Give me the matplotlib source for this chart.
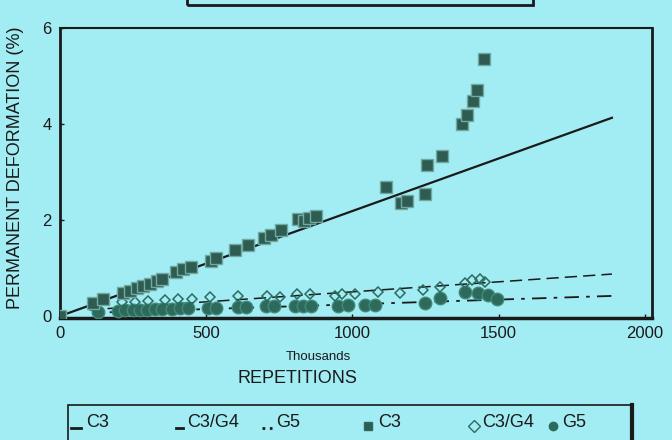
import matplotlib
matplotlib.use('Agg')
import matplotlib.pyplot as plt
from matplotlib.patches import Rectangle
from matplotlib.lines import Line2D

plt.rcParams['font.family'] = ['Liberation Sans', 'DejaVu Sans']

# C3 measured points (thousands of repetitions, % deformation)
c3_x = [0, 113, 148, 216, 240, 264, 285, 309, 333, 350, 398, 422, 449, 515, 535,
        600, 642, 696, 720, 755, 813, 834, 851, 875, 1115, 1166, 1187, 1249,
        1256, 1307, 1376, 1393, 1413, 1427, 1451]
c3_y = [0, 0.27, 0.35, 0.48, 0.52, 0.58, 0.62, 0.67, 0.73, 0.77, 0.92, 0.98, 1.02,
        1.15, 1.20, 1.38, 1.48, 1.62, 1.69, 1.79, 2.02, 1.98, 2.04, 2.08, 2.69,
        2.35, 2.40, 2.54, 3.15, 3.33, 4.00, 4.19, 4.48, 4.71, 5.35]

# C3/G4 measured points
c3g4_x = [113, 212, 256, 301, 359, 403, 451, 513, 609, 708, 752, 810, 855, 940,
          964, 1009, 1087, 1162, 1241, 1299, 1385, 1409, 1436, 1453]
c3g4_y = [0.20, 0.29, 0.30, 0.32, 0.33, 0.35, 0.36, 0.40, 0.42, 0.42, 0.40, 0.45,
          0.45, 0.42, 0.45, 0.46, 0.50, 0.48, 0.55, 0.60, 0.69, 0.75, 0.78, 0.70]

# G5 measured points
g5_x = [130, 198, 222, 250, 274, 297, 325, 349, 383, 410, 438, 506, 533, 608,
        636, 704, 732, 803, 831, 858, 950, 985, 1043, 1077, 1248, 1299, 1385,
        1429, 1463, 1494]
g5_y = [0.08, 0.10, 0.12, 0.12, 0.13, 0.13, 0.14, 0.14, 0.15, 0.16, 0.17, 0.16,
        0.17, 0.18, 0.18, 0.20, 0.20, 0.21, 0.20, 0.21, 0.22, 0.23, 0.23, 0.24,
        0.27, 0.38, 0.50, 0.48, 0.44, 0.36]

# fitted lines (end points)
c3_fit_x = [0, 1887]
c3_fit_y = [0, 4.13]
c3g4_fit_x = [100, 1887]
c3g4_fit_y = [0.13, 0.875]
g5_fit_x = [170, 1887]
g5_fit_y = [0.08, 0.42]

xticks = [0, 500, 1000, 1500, 2000]
yticks = [0, 2, 4, 6]

bg = '#a2ecf3'
sq_face = '#2f5c52'
sq_edge = '#6fa9a0'
ci_face = '#2e6a5c'
ci_edge = '#3f8a7a'
di_edge = '#2c6b60'
ink = '#1a1a1a'

fig = plt.figure(figsize=(6.72, 4.4), dpi=100, facecolor=bg)
ax = fig.add_axes([60 / 672, 1 - 318 / 440, 592 / 672, 290 / 440])
ax.set_facecolor(bg)

ax.plot(c3_fit_x, c3_fit_y, '-', color=ink, lw=1.6, zorder=2)
ax.plot(c3g4_fit_x, c3g4_fit_y, color=ink, lw=1.1, dashes=(8, 4), zorder=2)
ax.plot(g5_fit_x, g5_fit_y, color=ink, lw=1.3, dashes=(8, 4, 2, 4), zorder=2)

ax.plot(g5_x, g5_y, 'o', ms=9, mfc=ci_face, mec=ci_edge, mew=1, zorder=3)
ax.plot(c3g4_x, c3g4_y, 'D', ms=5.5, mfc='none', mec=di_edge, mew=1.1, zorder=4)
ax.plot(c3_x, c3_y, 's', ms=8, mfc=sq_face, mec=sq_edge, mew=1, zorder=5)

ax.set_xlim(0, 2024)
ax.set_ylim(-0.04, 6)
ax.set_xticks(xticks)
ax.set_yticks(yticks)
ax.tick_params(direction='in', length=3, width=1, colors=ink, labelsize=12,
               pad=6)
for side, w in [('left', 2), ('bottom', 2.5), ('top', 1.5), ('right', 2)]:
    ax.spines[side].set_linewidth(w)
    ax.spines[side].set_color(ink)

fig.text(318 / 672, 1 - 357 / 440, 'Thousands', ha='center', va='center',
         fontsize=9.5, color=ink)
fig.text(297 / 672, 1 - 378 / 440, 'REPETITIONS', ha='center', va='center',
         fontsize=13, color=ink)
fig.text(16 / 672, 1 - 168 / 440, 'PERMANENT DEFORMATION (%)', rotation=90,
         ha='center', va='center', fontsize=13, color=ink)

# title box, cut off at the top
fig.patches.append(Rectangle((187 / 672, 1 - 5 / 440), 346 / 672, 0.1,
                             transform=fig.transFigure, fill=False,
                             ec=ink, lw=2))

# legend box, cut off at the bottom
fig.patches.append(Rectangle((68 / 672, -0.1), 564 / 672, 0.1 + 35 / 440,
                             transform=fig.transFigure, fill=False,
                             ec=ink, lw=1.2))
fig.add_artist(Line2D([632 / 672, 632 / 672], [-0.01, 35 / 440],
                      transform=fig.transFigure, color=ink, lw=3))

ly = 1 - 422 / 440
entries = [
    ('line', (71, 81), '-', 'C3', 86),
    ('line', (176, 183), '-', 'C3/G4', 187),
    ('line', (262, 272), ':', 'G5', 276),
    ('sq', 368, None, 'C3', 378),
    ('di', 474, None, 'C3/G4', 482),
    ('ci', 553, None, 'G5', 562),
]
for kind, pos, ls, label, tx in entries:
    if kind == 'line':
        fig.add_artist(Line2D([pos[0] / 672, pos[1] / 672], [ly - 6 / 440] * 2,
                              transform=fig.transFigure, color=ink, lw=2,
                              ls=ls))
    else:
        mk = {'sq': 's', 'di': 'D', 'ci': 'o'}[kind]
        fc = {'sq': sq_face, 'di': 'none', 'ci': ci_face}[kind]
        fig.add_artist(Line2D([pos / 672], [ly - 4 / 440], marker=mk, ms=6,
                              mfc=fc, mec=di_edge, transform=fig.transFigure))
    fig.text(tx / 672, ly, label, ha='left', va='center', fontsize=13,
             color=ink)

fig.savefig('out.png', dpi=100, facecolor=bg)
